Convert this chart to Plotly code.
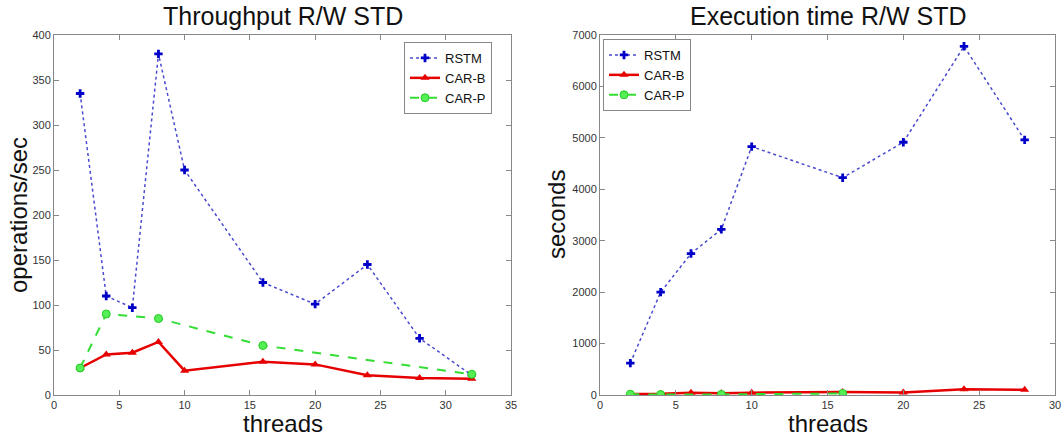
import plotly.graph_objects as go

# ---- data ----
threads_rstm_tp = [2, 4, 6, 8, 10, 16, 20, 24, 28, 32]
rstm_tp = [335, 110, 97, 379, 250, 125, 101, 145, 63, 22]
threads_carb_tp = [2, 4, 6, 8, 10, 16, 20, 24, 28, 32]
carb_tp = [30, 45, 47, 59, 27, 37, 34, 22, 19, 18]
threads_carp_tp = [2, 4, 8, 16, 32]
carp_tp = [30, 90, 85, 55, 23]

threads_rstm_et = [2, 4, 6, 8, 10, 16, 20, 24, 28]
rstm_et = [620, 2000, 2750, 3220, 4830, 4225, 4915, 6780, 4960]
threads_carb_et = [2, 4, 6, 8, 10, 16, 20, 24, 28]
carb_et = [20, 25, 45, 35, 45, 60, 50, 110, 100]
threads_carp_et = [2, 4, 8, 16]
carp_et = [15, 8, 12, 30]

series_names = ["RSTM", "CAR-B", "CAR-P"]
titles = ["Throughput R/W STD", "Execution time R/W STD"]
x_title = "threads"
y_titles = ["operations/sec", "seconds"]

FONT = "Liberation Sans, Arial, sans-serif"
BLUE_LINE = "#4a4ad0"
BLUE_MK = "#0000c8"
RED = "#e60000"
GREEN = "#33dd33"

def add_series(fig, xs, ys, kind, name, xa, ya, legend):
    if kind == 0:
        line = dict(color=BLUE_LINE, width=1.5, dash="dot")
        marker = dict(symbol="cross", size=7, color=BLUE_MK, line=dict(width=0))
    elif kind == 1:
        line = dict(color=RED, width=2.5)
        marker = dict(symbol="triangle-up", size=8, color=RED, line=dict(width=0))
    else:
        line = dict(color=GREEN, width=2, dash="dash")
        marker = dict(symbol="circle", size=8, color="#55ee55", line=dict(color="#22cc22", width=1))
    fig.add_trace(go.Scatter(x=xs, y=ys, mode="lines+markers", name=name,
                             line=line, marker=marker, xaxis=xa, yaxis=ya,
                             legend=legend))

fig = go.Figure()
add_series(fig, threads_rstm_tp, rstm_tp, 0, series_names[0], "x", "y", "legend")
add_series(fig, threads_carb_tp, carb_tp, 1, series_names[1], "x", "y", "legend")
add_series(fig, threads_carp_tp, carp_tp, 2, series_names[2], "x", "y", "legend")
add_series(fig, threads_rstm_et, rstm_et, 0, series_names[0], "x2", "y2", "legend2")
add_series(fig, threads_carb_et, carb_et, 1, series_names[1], "x2", "y2", "legend2")
add_series(fig, threads_carp_et, carp_et, 2, series_names[2], "x2", "y2", "legend2")

AX_COLOR = "#888888"
TICK_FONT = dict(family=FONT, size=11, color="#333333")
TITLE_FONT = dict(family=FONT, size=24, color="#111111")

def axis(domain, rng, dtick, anchor):
    return dict(domain=domain, range=rng, dtick=dtick, tick0=0, anchor=anchor,
                showgrid=False, zeroline=False, showline=True, linecolor=AX_COLOR,
                linewidth=1, mirror="ticks", ticks="inside", ticklen=5,
                tickcolor=AX_COLOR, tickfont=TICK_FONT, automargin=False)

W, H = 1064, 439
L, R, T, B = 54, 9, 35, 44
PW = W - L - R
PH = H - T - B
d1 = [0, (511 - L) / PW]
d2 = [(600 - L) / PW, 1]

def px_x(p):
    return (p - L) / PW

def px_y(p):
    return 1 - (p - T) / PH

annotations = []
for i, d in enumerate([d1, d2]):
    annotations.append(dict(text=titles[i], x=(d[0] + d[1]) / 2, y=px_y(16),
                            xref="paper", yref="paper", xanchor="center", yanchor="middle",
                            showarrow=False, font=dict(family=FONT, size=25, color="#111111")))
    annotations.append(dict(text=x_title, x=(d[0] + d[1]) / 2, y=px_y(423),
                            xref="paper", yref="paper", xanchor="center", yanchor="middle",
                            showarrow=False, font=TITLE_FONT))
annotations.append(dict(text=y_titles[0], x=px_x(18), y=0.5, textangle=-90,
                        xref="paper", yref="paper", xanchor="center", yanchor="middle",
                        showarrow=False, font=TITLE_FONT))
annotations.append(dict(text=y_titles[1], x=px_x(556), y=0.5, textangle=-90,
                        xref="paper", yref="paper", xanchor="center", yanchor="middle",
                        showarrow=False, font=TITLE_FONT))

fig.update_layout(
    width=W, height=H,
    margin=dict(l=L, r=R, t=T, b=B),
    paper_bgcolor="white", plot_bgcolor="white",
    font=dict(family=FONT),
    xaxis=axis(d1, [0, 35], 5, "y"),
    yaxis=axis([0, 1], [0, 400], 50, "x"),
    xaxis2=axis(d2, [0, 30], 5, "y2"),
    yaxis2=axis([0, 1], [0, 7000], 1000, "x2"),
    legend=dict(x=px_x(404), y=px_y(42), xanchor="left", yanchor="top",
                bordercolor=AX_COLOR, borderwidth=1, bgcolor="white",
                font=dict(family=FONT, size=13, color="#111111"), tracegroupgap=0),
    legend2=dict(x=px_x(603), y=px_y(39), xanchor="left", yanchor="top",
                 bordercolor=AX_COLOR, borderwidth=1, bgcolor="white",
                 font=dict(family=FONT, size=13, color="#111111"), tracegroupgap=0),
    annotations=annotations,
)

fig.write_html("out.html",
               config={"displayModeBar": False},
               post_script="document.body.style.margin='0px';document.body.style.overflow='hidden';")
